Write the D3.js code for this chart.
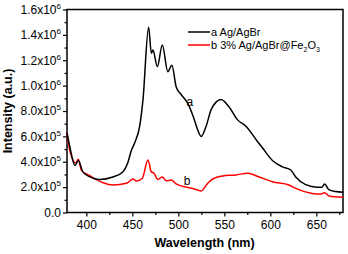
<!DOCTYPE html>
<html>
<head>
<meta charset="utf-8">
<script src="https://cdn.jsdelivr.net/npm/d3@7"></script>
<style>
  body { margin: 0; background: #fff; }
  svg { display: block; font-family: "Liberation Sans", Arial, sans-serif; }
  .axis text { font-size: 12px; fill: #000; }
  .axis path, .axis line { stroke: #000; stroke-width: 1.2; }
</style>
</head>
<body>
<svg id="chart" width="348" height="254"></svg>
<script>
// wavelength (nm) / intensity
var wlA = [379, 382, 387.7, 391.2, 396.3, 407.5, 414.7, 428.8, 439.6, 445, 449, 452.6, 458, 461.6, 467.7,
           470.7, 472.4, 477.2, 482.6, 488.6, 493, 497.7, 503.1, 510.3, 517.5, 521.1, 524.8, 530.2, 535.6,
           541, 546.4, 555.4, 564.4, 573.5, 586, 591.4, 602.3, 613.1, 622.2, 627.6, 638.4, 651, 656, 659,
           663.6, 670.9, 679];
var intA = [6.3e5, 5.2e5, 3.7e5, 4.1e5, 3.2e5, 2.7e5, 2.6e5, 2.8e5, 3.2e5, 3.9e5, 4.9e5, 5.5e5, 6.8e5, 8.9e5, 1.46e6,
            1.255e6, 1.28e6, 1.15e6, 1.32e6, 1.11e6, 1.16e6, 9.9e5, 9.3e5, 8.6e5, 7.3e5, 6.5e5, 6.0e5, 6.8e5, 8.1e5,
            8.7e5, 8.9e5, 8.3e5, 7.3e5, 6.8e5, 5.6e5, 5.1e5, 4.1e5, 3.6e5, 3.35e5, 2.8e5, 2.2e5, 2.0e5, 2.0e5, 2.25e5,
            1.8e5, 1.65e5, 1.6e5];

var wlB = [379, 382, 388.7, 391.2, 394.9, 403.9, 411.1, 418.3, 429.1, 443.6, 450.8, 454.4, 460.9, 467,
           470.7, 473.5, 477.8, 482.6, 486.9, 492.3, 497.7, 510.3, 515.7, 524.8, 532, 537.3, 548.2, 562.7,
           575.2, 587.9, 602.3, 620.3, 627.6, 645.6, 655, 659, 663.6, 679];
var intB = [6.3e5, 4.9e5, 3.9e5, 4.2e5, 3.3e5, 2.9e5, 2.6e5, 2.35e5, 2.17e5, 2.3e5, 2.64e5, 2.48e5, 2.7e5, 4.14e5,
            3.2e5, 3.1e5, 2.6e5, 2.8e5, 2.5e5, 2.56e5, 2.25e5, 1.97e5, 1.9e5, 1.7e5, 2.3e5, 2.64e5, 2.88e5, 2.96e5,
            3.1e5, 2.8e5, 2.43e5, 2.17e5, 1.9e5, 1.5e5, 1.45e5, 1.56e5, 1.3e5, 1.2e5];

var seriesNames = ["a Ag/AgBr", "b 3% Ag/AgBr@Fe2O3"];
var seriesColors = ["#000000", "#ff0000"];
var xTicks = [400, 450, 500, 550, 600, 650];
var yTicks = [0, 2e5, 4e5, 6e5, 8e5, 1e6, 1.2e6, 1.4e6, 1.6e6];

var svg = d3.select("#chart"),
    margin = {top: 9.5, left: 67, right: 5, bottom: 41.5},
    width = 348 - margin.left - margin.right,
    height = 254 - margin.top - margin.bottom,
    g = svg.append("g").attr("transform", "translate(" + margin.left + "," + margin.top + ")");

var x = d3.scaleLinear().domain([379, 679]).range([0, width]);
var y = d3.scaleLinear().domain([0, 1.6e6]).range([height, 0]);

// minor ticks first
g.append("g")
    .attr("class", "axis")
    .attr("transform", "translate(0," + height + ")")
    .call(d3.axisBottom(x).tickValues([425, 475, 525, 575, 625, 675]).tickSize(2.5).tickSizeOuter(0).tickFormat(""))
    .select(".domain").remove();
g.append("g")
    .attr("class", "axis")
    .call(d3.axisLeft(y).tickValues(d3.range(1e5, 1.6e6, 2e5)).tickSize(2.5).tickSizeOuter(0).tickFormat(""))
    .select(".domain").remove();

var xAxis = g.append("g")
    .attr("class", "axis")
    .attr("transform", "translate(0," + height + ")")
    .call(d3.axisBottom(x).tickValues(xTicks).tickSize(4).tickSizeOuter(0).tickPadding(4));
xAxis.select(".domain").remove();

var yAxis = g.append("g")
    .attr("class", "axis")
    .call(d3.axisLeft(y).tickValues(yTicks).tickSize(4).tickSizeOuter(0).tickPadding(2).tickFormat(""));
yAxis.select(".domain").remove();

// labels like 1.6x10^6
yAxis.selectAll(".tick text").each(function(d) {
  var t = d3.select(this);
  if (d === 0) { t.text("0.0"); return; }
  var e = Math.floor(Math.log10(d));
  var m = d / Math.pow(10, e);
  t.append("tspan").text(m.toFixed(1) + "x10");
  t.append("tspan").attr("dy", -5).attr("font-size", "8px").text(e);
});

// frame
g.append("rect")
    .attr("width", width)
    .attr("height", height)
    .attr("fill", "none")
    .attr("stroke", "#000")
    .attr("stroke-width", 1.5);

var line = d3.line()
    .x(function(d) { return x(d[0]); })
    .y(function(d) { return y(d[1]); })
    .curve(d3.curveMonotoneX);

var dataB = d3.zip(wlB, intB);
var dataA = d3.zip(wlA, intA);

g.append("path").datum(dataB)
    .attr("fill", "none").attr("stroke", seriesColors[1]).attr("stroke-width", 1.5)
    .attr("d", line);
g.append("path").datum(dataA)
    .attr("fill", "none").attr("stroke", seriesColors[0]).attr("stroke-width", 1.5)
    .attr("d", line);

// curve labels
g.append("text").attr("x", x(509)).attr("y", y(8.4e5))
    .attr("font-size", "12px").text("a");
g.append("text").attr("x", x(506)).attr("y", y(2.2e5))
    .attr("font-size", "12px").text("b");

// legend
var legend = g.append("g").attr("transform", "translate(121,22.5)");
seriesNames.forEach(function(name, i) {
  var row = legend.append("g").attr("transform", "translate(0," + (i * 13) + ")");
  row.append("line").attr("x1", 0).attr("x2", 22)
      .attr("stroke", seriesColors[i]).attr("stroke-width", 1.5);
  var t = row.append("text").attr("x", 23).attr("y", 4).attr("font-size", "11px");
  if (i === 0) {
    t.text(name);
  } else {
    t.append("tspan").text("b 3% Ag/AgBr@Fe");
    t.append("tspan").attr("dy", 3).attr("font-size", "7px").text("2");
    t.append("tspan").attr("dy", -3).text("O");
    t.append("tspan").attr("dy", 3).attr("font-size", "7px").text("3");
  }
});

// axis titles
svg.append("text")
    .attr("x", margin.left + width / 2 - 0.5)
    .attr("y", 247)
    .attr("text-anchor", "middle")
    .attr("font-size", "12.5px").attr("font-weight", "bold")
    .text("Wavelength (nm)");
svg.append("text")
    .attr("transform", "translate(12," + (margin.top + height / 2) + ") rotate(-90)")
    .attr("text-anchor", "middle")
    .attr("font-size", "12.5px").attr("font-weight", "bold")
    .text("Intensity (a.u.)");
</script>
</body>
</html>
